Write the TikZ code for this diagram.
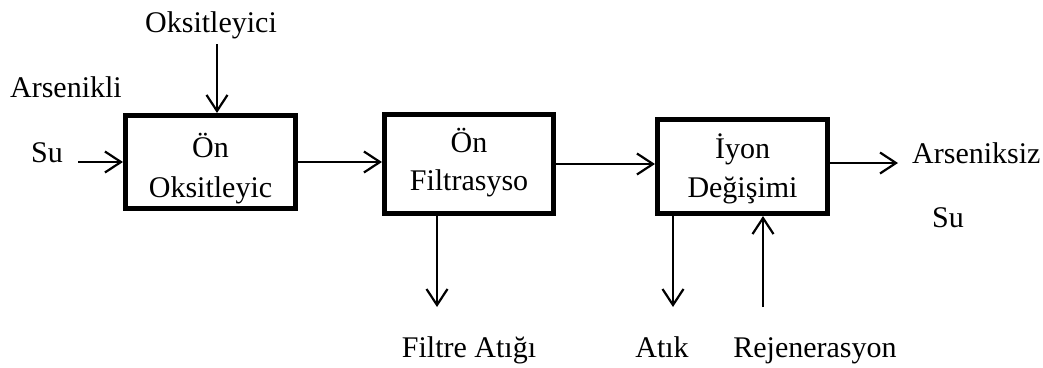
\documentclass[tikz,border=0pt]{standalone}
\usepackage{fontspec}
\setmainfont{Liberation Serif}
\usetikzlibrary{arrows.meta}
\begin{document}
\begin{tikzpicture}[x=1pt,y=-1pt,
  every node/.style={font=\fontsize{30}{39}\selectfont, inner sep=0pt},
  stage/.style={draw, line width=4.6pt, rectangle, minimum width=#1, fill=white},
  lbl/.style={anchor=base},
  arr/.style={line width=2.2pt, -{Straight Barb[length=16pt,width=21pt,line width=2.2pt]}}]
\useasboundingbox (0,0) rectangle (1043,367);

% process stages
\node[stage=170.5, minimum height=93.5] (b1) at (210.5,162) {};
\node[stage=169.5, minimum height=99.5] (b2) at (469,164) {};
\node[stage=170.5, minimum height=94.5] (b3) at (742.5,166.5) {};

% stage captions
\node[lbl] (b1a) at (210.5,157) {Ön};
\node[lbl] (b1b) at (210.5,197) {Oksitleyic};
\node[lbl] (b2a) at (469,152) {Ön};
\node[lbl] (b2b) at (469,190) {Filtrasyso};
\node[lbl] (b3a) at (742.5,158) {İyon};
\node[lbl] (b3b) at (742.5,197) {Değişimi};

% external streams
\node[lbl] (oks) at (211,32) {Oksitleyici};
\node[lbl] (ars) at (66,97) {Arsenikli};
\node[lbl] (su1) at (47,162) {Su};
\node[lbl, anchor=base west] (out) at (912,163) {Arseniksiz};
\node[lbl] (su2) at (948,227) {Su};
\node[lbl] (fat) at (469,357) {Filtre Atığı};
\node[lbl] (atk) at (662,357) {Atık};
\node[lbl] (rej) at (815,357) {Rejenerasyon};

% connector end points
\coordinate (okTop) at (217,44);
\coordinate (inL) at (78,162);
\coordinate (outR) at (898,163);
\coordinate (fEnd) at (437,307);
\coordinate (aEnd) at (673,307);
\coordinate (rStart) at (763,307);

% flows
\draw[arr] (okTop) -- (okTop |- b1.north);
\draw[arr] (inL) -- (inL -| b1.west);
\draw[arr] (b1.east) -- (b1.east -| b2.west);
\draw[arr] (b2.east) -- (b2.east -| b3.west);
\draw[arr] (outR -| b3.east) -- (outR);
\draw[arr] (fEnd |- b2.south) -- (fEnd);
\draw[arr] (aEnd |- b3.south) -- (aEnd);
\draw[arr] (rStart) -- (rStart |- b3.south);
\end{tikzpicture}
\end{document}
